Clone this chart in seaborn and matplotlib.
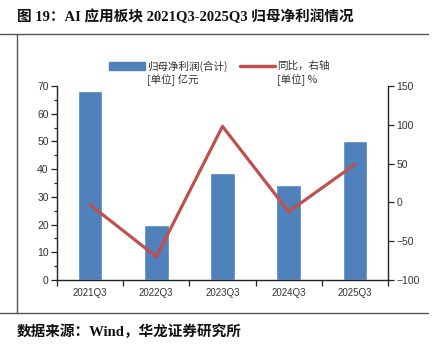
import matplotlib
matplotlib.use("Agg")
import matplotlib.pyplot as plt
from matplotlib.lines import Line2D
from matplotlib.patches import Rectangle
from matplotlib.ticker import MultipleLocator, FixedLocator
import seaborn as sns
import pandas as pd

# Quarterly net profit attributable to parent (AI application sector)
quarters = ["2021Q3", "2022Q3", "2023Q3", "2024Q3", "2025Q3"]
net_profit = [68.2, 20.0, 38.7, 34.1, 50.2]      # 亿元
yoy_growth = [-3.0, -70.0, 98.0, -12.0, 49.0]   # %

bar_color = "#4F81BD"
line_color = "#C0504D"
text_color = "#333333"

sns.set_theme(style="white")
plt.rcParams["font.family"] = ["Liberation Sans", "Noto Sans CJK SC", "DejaVu Sans"]

W, H = 438, 344
fig = plt.figure(figsize=(W / 100, H / 100), dpi=100)
ax = fig.add_axes([57 / W, 1 - 280 / H, (388 - 57) / W, (280 - 86) / H])

df = pd.DataFrame({"quarter": quarters, "profit": net_profit, "yoy": yoy_growth})

sns.barplot(data=df, x="quarter", y="profit", ax=ax, color=bar_color,
            saturation=1, width=0.37, errorbar=None)
ax2 = ax.twinx()
sns.pointplot(data=df, x="quarter", y="yoy", ax=ax2, color=line_color,
              markers="", linewidth=2.3, errorbar=None)

ax.set_xlim(-0.5, len(quarters) - 0.5)
ax.set_ylim(0, 70)
ax2.set_ylim(-100, 150)
ax.yaxis.set_major_locator(MultipleLocator(10))
ax.yaxis.set_minor_locator(MultipleLocator(5))
ax2.yaxis.set_major_locator(MultipleLocator(50))
ax2.set_yticklabels([f"{int(v)}".replace("-", "\u2212") for v in ax2.get_yticks()])

# category labels at the centre, tick marks at the boundaries
ax.xaxis.set_major_locator(FixedLocator(range(len(quarters))))
ax.set_xticklabels(quarters)
ax.xaxis.set_minor_locator(FixedLocator([i - 0.5 for i in range(len(quarters) + 1)]))

for a in (ax, ax2):
    a.set_xlabel("")
    a.set_ylabel("")
    for s in a.spines.values():
        s.set_visible(False)
    a.grid(False)
    a.patch.set_visible(False)

ax.spines["left"].set_visible(True)
ax.spines["bottom"].set_visible(True)
ax2.spines["right"].set_visible(True)
for s in (ax.spines["left"], ax.spines["bottom"], ax2.spines["right"]):
    s.set_color("#222222")
    s.set_linewidth(1.0)

ax.tick_params(axis="x", which="major", length=0, labelsize=7, colors=text_color, pad=6)
ax.tick_params(axis="x", which="minor", length=4, width=0.9, direction="out", color="#222222", bottom=True)
ax.tick_params(axis="y", which="major", length=4, width=0.9, direction="out", left=True,
               labelsize=7.5, colors=text_color, pad=2)
ax.tick_params(axis="y", which="minor", length=2.5, width=0.9, direction="out", left=True, color="#222222")
ax.tick_params(axis="y", which="major", color="#222222")
ax2.tick_params(axis="y", which="major", length=4, width=0.9, direction="out", right=True,
                labelsize=7.5, colors=text_color, pad=2, color="#222222")
ax2.tick_params(axis="y", which="major", color="#222222")

# legend drawn at the top of the plot area
def fx(px):
    return px / W

def fy(py):
    return 1 - py / H

leg_font = dict(fontsize=7.6, color=text_color, family=["Noto Sans CJK SC", "DejaVu Sans"], va="center")
fig.add_artist(Rectangle((fx(109), fy(70)), fx(145) - fx(109), fy(62) - fy(70),
                         transform=fig.transFigure, color=bar_color))
fig.text(fx(147), fy(66), "归母净利润(合计)", **leg_font)
fig.text(fx(147), fy(80), "[单位] 亿元", **leg_font)
fig.add_artist(Line2D([fx(240), fx(275)], [fy(66), fy(66)], transform=fig.transFigure,
                      color=line_color, linewidth=2.5))
fig.text(fx(277), fy(66), "同比，右轴", **leg_font)
fig.text(fx(277), fy(80), "[单位] %", **leg_font)

# title, source and frame rules
head_font = ["Liberation Serif", "Noto Sans CJK SC", "DejaVu Sans"]
fig.text(fx(17), fy(17), "图 19：AI 应用板块 2021Q3-2025Q3 归母净利润情况", fontsize=10.5,
         fontweight="bold", family=head_font, va="center", color="#111111")
fig.text(fx(17), fy(332), "数据来源：Wind，华龙证券研究所", fontsize=10.5,
         fontweight="bold", family=head_font, va="center", color="#111111")

rule = dict(transform=fig.transFigure, color="#555555", linewidth=1.0)
fig.add_artist(Line2D([0, fx(428)], [fy(34), fy(34)], **rule))
fig.add_artist(Line2D([0, fx(428)], [fy(313), fy(313)], **rule))
fig.add_artist(Line2D([fx(17), fx(17)], [fy(34), fy(313)], **rule))

fig.savefig("out.png", dpi=100)
